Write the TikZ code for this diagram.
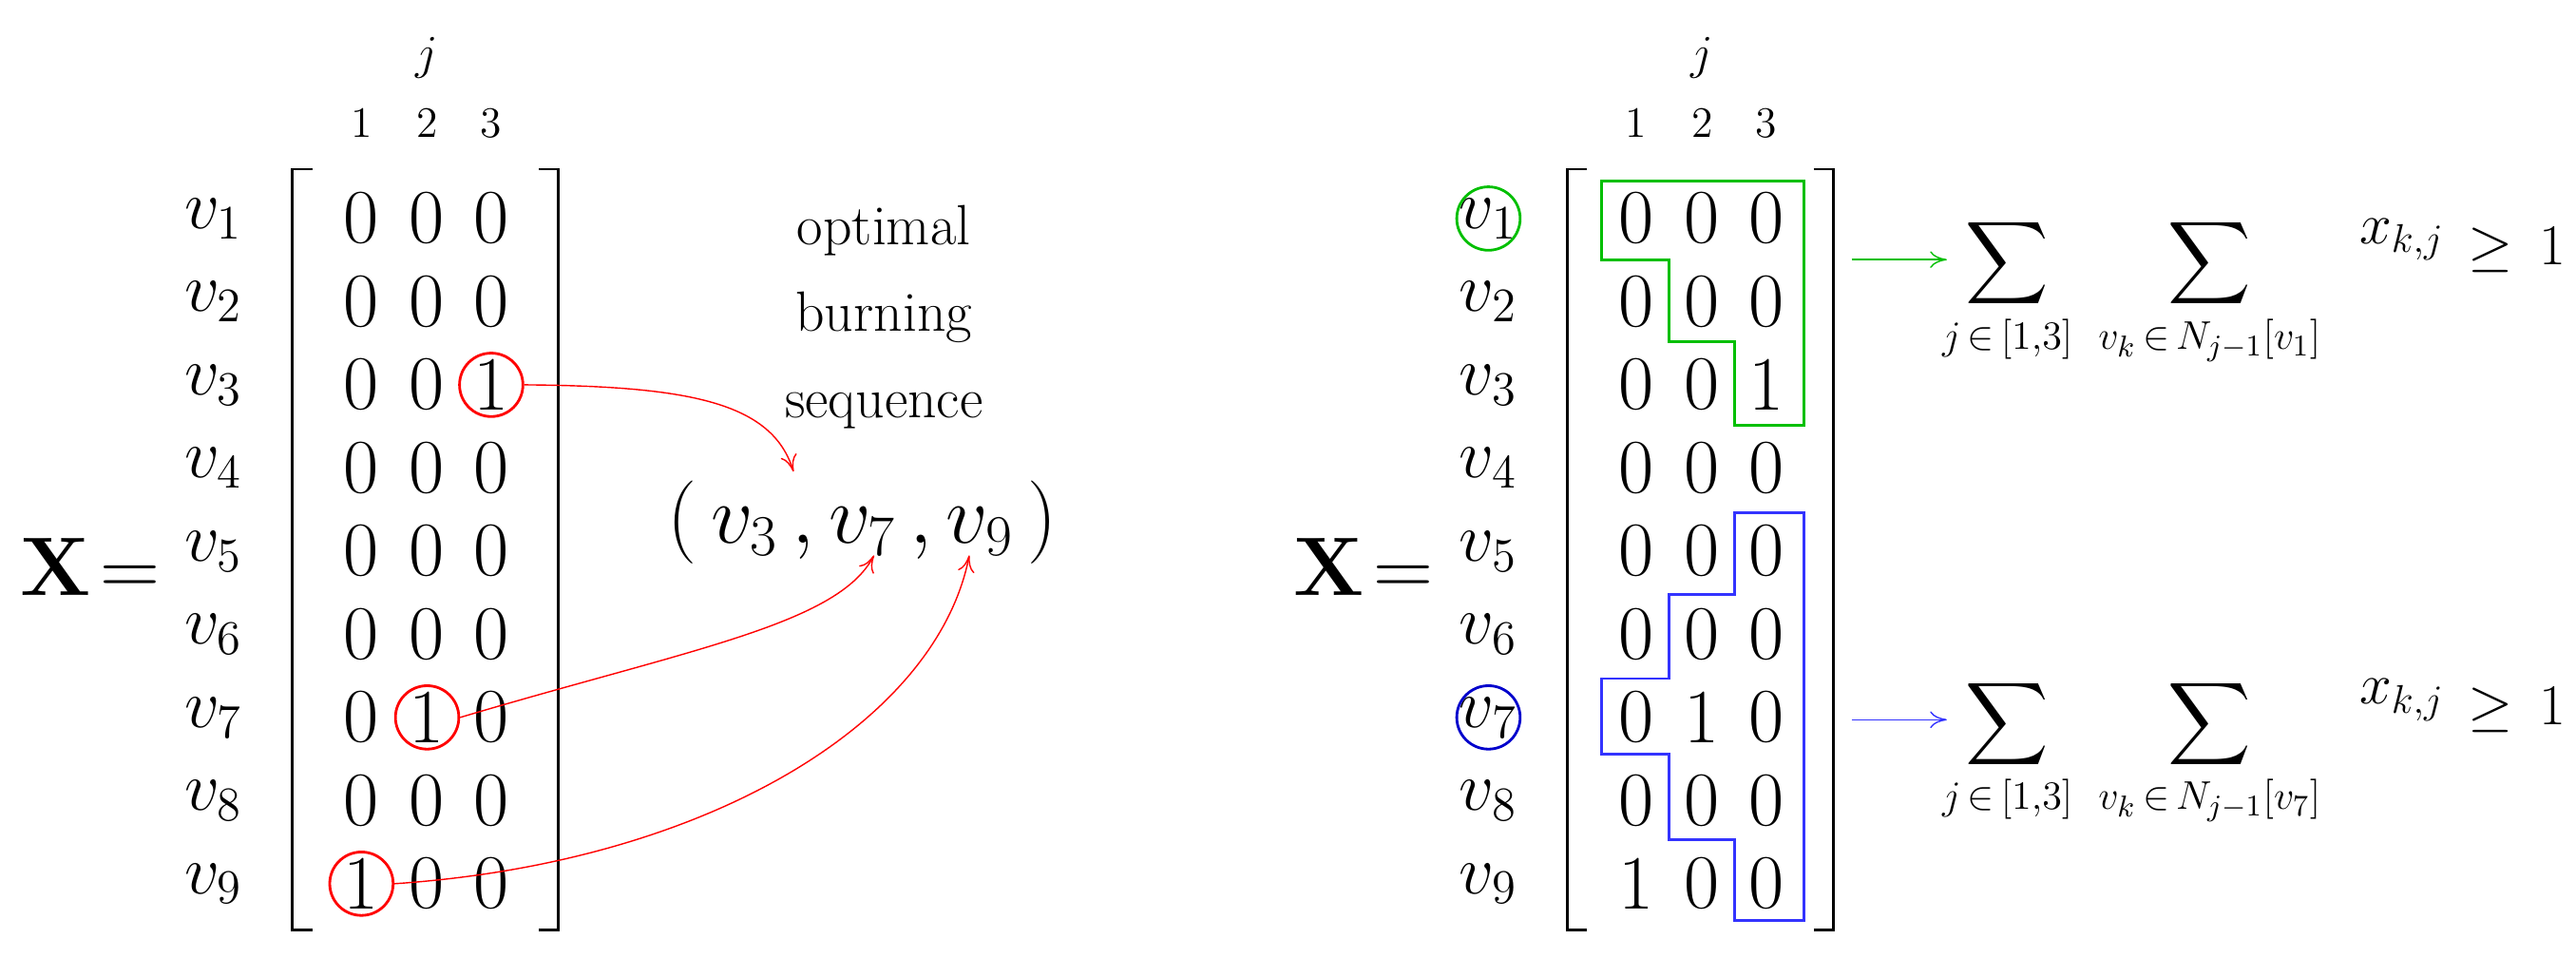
\documentclass[tikz,border=0pt]{standalone}
\usepackage{amsmath}
\usetikzlibrary{arrows.meta}
\tikzset{
  entry/.style={inner sep=0pt, font=\fontsize{23}{26}\selectfont},
  vlab/.style={inner sep=0pt, font=\fontsize{21}{24}\selectfont},
  head/.style={inner sep=0pt, font=\fontsize{13}{15}\selectfont},
  ring/.style={draw=red, thick, circle, minimum size=19pt, inner sep=0pt},
  flow/.style={red, thin, -{To[length=5pt,width=5pt]}},
  sumpart/.style={inner sep=0pt, font=\fontsize{18}{21}\selectfont},
}
\begin{document}
\begin{tikzpicture}[x=0.0173cm, y=-0.0173cm]
    \useasboundingbox (0,0) rectangle (1568,583);
    % left matrix
    \node[entry, font=\fontsize{30}{34}\selectfont\bfseries] (XL) at (55,345) {$\mathbf{X}\!=$};
    \node[head, font=\fontsize{15}{17}\selectfont] (jL) at (260,35) {$j$};
    \foreach \c/\x in {1/220,2/260,3/299}
        \node[head] (hL\c) at (\x,75) {\c};
    \foreach \r/\a/\b/\c in {1/0/0/0,2/0/0/0,3/0/0/1,4/0/0/0,5/0/0/0,6/0/0/0,7/0/1/0,8/0/0/0,9/1/0/0} {
        \node[vlab] (vL\r) at (130,{133+50.6*(\r-1)}) {$v_{\r}$};
        \node[entry] (mL\r1) at (220,{133+50.6*(\r-1)}) {\a};
        \node[entry] (mL\r2) at (260,{133+50.6*(\r-1)}) {\b};
        \node[entry] (mL\r3) at (299,{133+50.6*(\r-1)}) {\c};
    }
    \draw[thick] (190,103) -- (178,103) -- (178,566) -- (190,566);
    \draw[thick] (328,103) -- (340,103) -- (340,566) -- (328,566);
    \node[ring] (cL3) at (mL33) {};
    \node[ring] (cL7) at (mL72) {};
    \node[ring] (cL9) at (mL91) {};
    \node[align=center, inner sep=0pt, font=\fontsize{17}{26}\selectfont] (seq) at (538,193) {optimal\\burning\\sequence};
    \node[inner sep=0pt, font=\fontsize{26}{30}\selectfont] (burn) at (525,318) {$(\,v_3\,,v_7\,,v_9\,)$};
    \coordinate (t3) at (483,287);
    \coordinate (t7) at (532,338);
    \coordinate (t9) at (590,338);
    \draw[flow] (cL3.east) .. controls (420,235) and (470,245) .. (t3);
    \draw[flow] (cL7.east) .. controls (420,395) and (510,380) .. (t7);
    \draw[flow] (cL9.east) .. controls (430,525) and (570,440) .. (t9);
    % right matrix
    \node[entry, font=\fontsize{30}{34}\selectfont\bfseries] (XR) at (830,345) {$\mathbf{X}\!=$};
    \node[head, font=\fontsize{15}{17}\selectfont] (jR) at (1036,35) {$j$};
    \foreach \c/\x in {1/996,2/1036,3/1075}
        \node[head] (hR\c) at (\x,75) {\c};
    \foreach \r/\a/\b/\c in {1/0/0/0,2/0/0/0,3/0/0/1,4/0/0/0,5/0/0/0,6/0/0/0,7/0/1/0,8/0/0/0,9/1/0/0} {
        \node[vlab] (vR\r) at (906,{133+50.6*(\r-1)}) {$v_{\r}$};
        \node[entry] (mR\r1) at (996,{133+50.6*(\r-1)}) {\a};
        \node[entry] (mR\r2) at (1036,{133+50.6*(\r-1)}) {\b};
        \node[entry] (mR\r3) at (1075,{133+50.6*(\r-1)}) {\c};
    }
    \draw[thick] (966,103) -- (954,103) -- (954,566) -- (966,566);
    \draw[thick] (1104,103) -- (1116,103) -- (1116,566) -- (1104,566);
    \node[ring, draw=green!75!black] (cR1) at (vR1) {};
    \node[ring, draw=blue!80!black] (cR7) at (vR7) {};
    % neighbourhood outlines
    \draw[green!75!black, thick] (975,110) -- (1098,110) -- (1098,259) -- (1056,259) -- (1056,208)
        -- (1016,208) -- (1016,158) -- (975,158) -- cycle;
    \draw[blue!80!white, thick] (1056,312) -- (1098,312) -- (1098,560) -- (1056,560) -- (1056,511)
        -- (1016,511) -- (1016,459) -- (975,459) -- (975,413) -- (1016,413) -- (1016,362) -- (1056,362) -- cycle;
    % constraints
    \foreach \v/\y/\col in {1/160/green!75!black, 7/440/blue!80!white} {
        \node[sumpart, anchor=north] (sj\v) at (1222,{\y-28}) {$\displaystyle\sum_{j\,\in\,[1,3]}$};
        \node[sumpart, anchor=north] (sk\v) at (1345,{\y-28}) {$\displaystyle\sum_{v_k\,\in\, N_{j-1}[v_\v]}$};
        \node[sumpart] (x\v) at (1462,{\y-14}) {$x_{k,j}$};
        \node[sumpart, anchor=east] (ge\v) at (1562,{\y-8}) {$\ge\,1$};
        \coordinate (a\v) at (1127,{\y-2});
        \draw[\col, -{To[length=5pt,width=5pt]}] (a\v) -- (1185,{\y-2});
    }
\end{tikzpicture}
\end{document}
